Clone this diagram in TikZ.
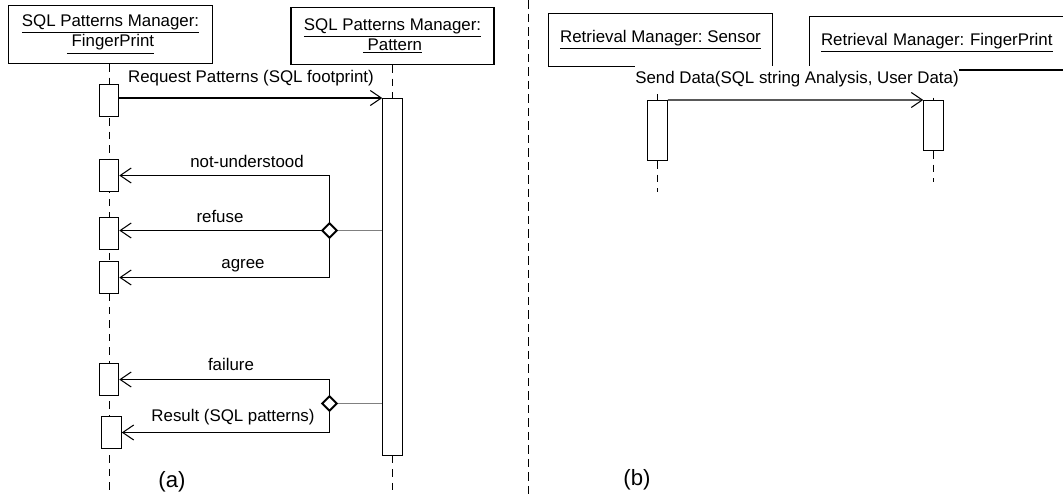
\documentclass[tikz,border=0pt]{standalone}
\usepackage{fontspec}
\setmainfont{Liberation Sans}
\usetikzlibrary{arrows.meta,shapes.geometric}
\frenchspacing

\begin{document}
\begin{tikzpicture}[x=0.02cm,y=-0.02cm,line width=0.6pt,
  font=\fontsize{9.6}{11.4}\selectfont,
  head/.style={draw,inner sep=0,align=center},
  act/.style={draw,fill=white,inner sep=0,minimum width=0.39cm,minimum height=0.65cm},
  life/.style={line width=0.5pt,dash pattern=on 0.15cm off 0.12cm},
  divider/.style={line width=0.8pt,dash pattern=on 0.17cm off 0.1cm},
  msg/.style={-{Straight Barb[length=0.22cm,width=0.3cm]}},
  fork/.style={draw,diamond,fill=white,inner sep=0,minimum size=0.31cm,line width=1.1pt},
  guard/.style={gray,line width=0.4pt},
  caption/.style={font=\fontsize{12.6}{14}\selectfont,anchor=base}]
\useasboundingbox (0,0) rectangle (1063,495);
\clip (0,0) rectangle (1063,495);
\node[head,minimum width=4.08cm,minimum height=1.16cm] (fpa) at (110.5,34.5) {\underline{SQL Patterns Manager:}\\\underline{\ FingerPrint}};
\node[head,minimum width=4.06cm,minimum height=1.14cm] (pat) at (392.5,36) {\underline{SQL Patterns Manager:}\\\underline{\ Pattern}};
\coordinate (fpaend) at (109.5,495);
\coordinate (patend) at (392.5,495);
\draw[life] (fpa.south -| fpaend) -- (fpaend);
\node[act] (a1) at (109,100.5) {};
\node[act] (nu) at (109,175.5) {};
\node[act] (rf) at (109,233.5) {};
\node[act] (ag) at (109,277.5) {};
\node[act] (fl) at (109,379.5) {};
\node[act] (rs) at (111.5,432.5) {};
\node[act,minimum height=7.14cm] (pact) at (392.5,277) {};
\draw[life] (pat) -- (pact);
\draw[life] (pact) -- (patend);
\draw[msg] (a1.east |- pact.north west) -- (pact.north west);
\node[anchor=base] (lreq) at (251,82) {Request Patterns (SQL footprint)};
\node[fork] (f1) at (329.5,230.5) {};
\draw[guard] (f1) -- (f1 -| pact.west);
\draw[msg] (f1) |- (nu.east);
\draw[msg] (f1) -- (f1 -| rf.east);
\draw[msg] (f1) |- (ag.east);
\node[fork] (f2) at (329.5,403.5) {};
\draw[guard] (f2) -- (f2 -| pact.west);
\draw[msg] (f2) |- (fl.east);
\draw[msg] (f2) |- (rs.east);
\node[anchor=base] (lnu) at (247,167) {not-understood};
\node[anchor=base] (lrf) at (220,222) {refuse};
\node[anchor=base] (lag) at (243,268) {agree};
\node[anchor=base] (lfl) at (231,370) {failure};
\node[anchor=base] (lrs) at (233,421) {Result (SQL patterns)};
\node[caption] (capa) at (172,487) {(a)};
\coordinate (sepa) at (528.5,0);
\coordinate (sepb) at (528.5,495);
\draw[divider] (sepa) -- (sepb);
\node[head,minimum width=4.48cm,minimum height=1.06cm] (sen) at (660.5,40) {\underline{Retrieval Manager: Sensor}};
\node[head,anchor=north west,minimum height=1.08cm,text width=4.92cm,inner xsep=0.24cm,align=left] (rfp) at (808.5,15.5) {\underline{Retrieval Manager: FingerPrint}};
\node[act,minimum height=1.2cm] (sact) at (657.5,130.5) {};
\node[act,minimum height=1cm] (fact) at (933.5,125.5) {};
\coordinate (sactend) at (657.5,192);
\coordinate (factend) at (933.5,182);
\draw[life] (sen.south -| sact) -- (sact);
\draw[life] (sact) -- (sactend);
\draw[life] (rfp.south -| fact) -- (fact);
\draw[life] (fact) -- (factend);
\node[anchor=base,fill=white,inner xsep=0,inner ysep=0.1cm] (lsend) at (797,83) {Send Data(SQL string Analysis, User Data)};
\draw[msg] (sact.north east) -- (fact.north west);
\node[caption] (capb) at (637,485) {(b)};
\end{tikzpicture}
\end{document}
